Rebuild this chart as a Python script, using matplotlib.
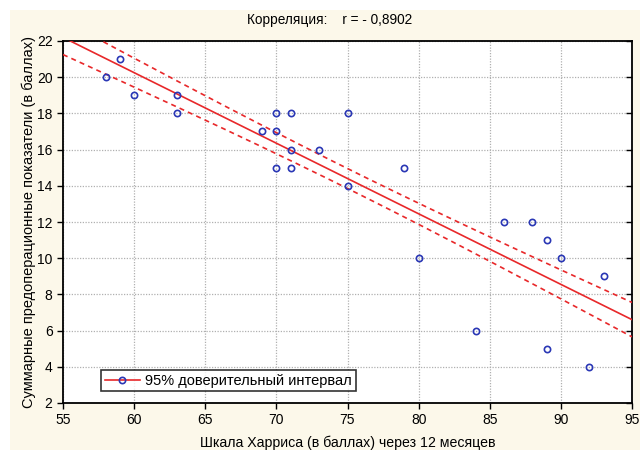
import numpy as np
import matplotlib
matplotlib.use("Agg")
import matplotlib.pyplot as plt
from matplotlib.lines import Line2D
from matplotlib.patches import Rectangle

# Шкала Харриса (x) и суммарные предоперационные показатели (y)
harris = [58, 59, 60, 63, 63, 69, 70, 70, 71, 70, 71, 71, 73, 75, 75,
          79, 80, 84, 86, 88, 89, 90, 93, 89, 92]
score = [20, 21, 19, 19, 18, 17, 17, 18, 18, 15, 15, 16, 16, 18, 14,
         15, 10, 6, 12, 12, 11, 10, 9, 5, 4]

# half-width of the 95% band (centre / axis ends)
ci_half_mid = 0.55
ci_half_edge = 0.95

x_ticks = [55, 60, 65, 70, 75, 80, 85, 90, 95]
y_ticks = [2, 4, 6, 8, 10, 12, 14, 16, 18, 20, 22]

plt.rcParams['font.family'] = ['Liberation Sans', 'DejaVu Sans']

cream = "#fcf8ea"
fig = plt.figure(figsize=(6.4, 4.5), dpi=100, facecolor="white")
fig.patches.append(Rectangle((10 / 640, 0), 1, 1 - 10 / 450, transform=fig.transFigure,
                             facecolor=cream, edgecolor="none", zorder=-10))
ax = fig.add_axes([63 / 640, 1 - 403 / 450, (632 - 63) / 640, (403 - 41) / 450])
ax.set_facecolor("white")

x = np.array(harris, float)
y = np.array(score, float)
b, a = np.polyfit(x, y, 1)
xs = np.linspace(55, 95, 200)
yh = a + b * xs
xm = 0.5 * (55 + 95)
k2 = (ci_half_edge ** 2 - ci_half_mid ** 2) / (95 - xm) ** 2
half = np.sqrt(ci_half_mid ** 2 + k2 * (xs - xm) ** 2)

red = "#e8282a"
ax.plot(xs, yh, color=red, lw=1.2, zorder=3)
ax.plot(xs, yh + half, color=red, lw=1.2, ls=(0, (3, 2.5)), zorder=3)
ax.plot(xs, yh - half, color=red, lw=1.2, ls=(0, (3, 2.5)), zorder=3)
ax.plot(x, y, ls="none", marker="o", ms=4.5, mfc="none", mec="#2a37b5", mew=1.2, zorder=4)

ax.set_xlim(55, 95)
ax.set_ylim(2, 22)
ax.set_xticks(x_ticks)
ax.set_yticks(y_ticks)
ax.grid(True, color="#b0b0b0", ls=(0, (1, 1.2)), lw=0.9)
ax.tick_params(labelsize=10, length=4, width=1, direction="out")
ax.tick_params(axis="y", which="both", right=True, labelright=False)
for tl in ax.yaxis.get_ticklines()[1::2]:
    tl.set_marker(0)  # right-side ticks point inward
for sp in ax.spines.values():
    sp.set_linewidth(1.3)

handle = Line2D([], [], color=red, lw=1.2, marker="o", mfc="none",
                mec="#2a37b5", mew=1.2, ms=4.5)
leg = ax.legend([handle], ["95% доверительный интервал"], loc="lower left",
                bbox_to_anchor=(0.054, 0.012), fontsize=10.5, frameon=True, fancybox=False,
                handlelength=2.4, borderpad=0.25, handletextpad=0.4)
leg.get_frame().set_edgecolor("black")
leg.get_frame().set_linewidth(1.2)

fig.text(0.515, 0.955, "Корреляция:    r = - 0,8902", ha="center", va="center", fontsize=9.8)
ax.set_xlabel("Шкала Харриса (в баллах) через 12 месяцев", fontsize=10.2, labelpad=6)
ax.set_ylabel("Суммарные предоперационные показатели (в баллах)", fontsize=10.5, labelpad=0.5)

fig.savefig("out.png", dpi=100, facecolor=fig.get_facecolor())
